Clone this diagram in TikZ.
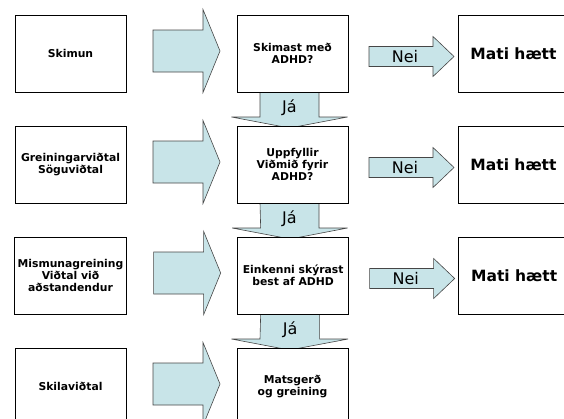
\documentclass[tikz,border=0pt]{standalone}
\usepackage{fontspec}
\setmainfont{DejaVu Sans}
\usetikzlibrary{positioning, backgrounds}
\definecolor{arrowblue}{RGB}{200,228,232}
\definecolor{edgegray}{RGB}{70,70,70}

\begin{document}
\begin{tikzpicture}[
  box/.style={draw=black, line width=0.8pt, fill=white, minimum width=111pt, minimum height=77pt, outer sep=0pt, align=center, font=\bfseries\fontsize{10.8}{11.8}\selectfont},
  stopbox/.style={box, font=\bfseries\fontsize{15.5}{18}\selectfont},
  blockarrow/.style={draw=edgegray, line width=0.6pt, fill=arrowblue, line join=miter},
  arrowtext/.style={font=\fontsize{16}{18}\selectfont, inner sep=0pt}
]
  \useasboundingbox (0,0) rectangle (564pt,-418pt);
  \clip (0,0) rectangle (564pt,-418pt);

  % left column
  \node[box] (skimun) at (70.5pt,-53.5pt) {Skimun};
  \node[box, below=34pt of skimun]   (greining) {Greiningarviðtal\\Söguviðtal};
  \node[box, below=34pt of greining] (mismunur) {Mismunagreining\\Viðtal við\\aðstandendur};
  \node[box, below=34pt of mismunur] (skil)     {Skilaviðtal};

  % middle column
  \node[box, right=111pt of skimun]   (spurn1)   {Skimast með\\ADHD?};
  \node[box, right=111pt of greining] (spurn2)   {Uppfyllir\\Viðmið fyrir\\ADHD?};
  \node[box, right=111pt of mismunur] (spurn3)   {Einkenni skýrast\\best af ADHD};
  \node[box, right=111pt of skil]     (matsgerd) {Matsgerð\\og greining};

  % right column
  \node[stopbox, right=110pt of spurn1] (haett1) {Mati hætt};
  \node[stopbox, right=110pt of spurn2] (haett2) {Mati hætt};
  \node[stopbox, right=110pt of spurn3] (haett3) {Mati hætt};

  \begin{scope}[on background layer]
    % big arrows
    \foreach \a/\b in {skimun/spurn1, greining/spurn2, mismunur/spurn3, skil/matsgerd}
      \draw[blockarrow] ([shift={(27pt,-18.5pt)}]\a.east) -- ++(0,42pt) -- ++(50pt,0) -- ++(0,20.5pt)
        -- ([xshift=-17pt,yshift=2.5pt]\b.west) -- ++(-17pt,-41.5pt) -- ++(0,20.5pt) -- cycle;
    % Nei
    \foreach \a/\b in {spurn1/haett1, spurn2/haett2, spurn3/haett3}{
      \draw[blockarrow] ([shift={(21pt,-13pt)}]\a.east) -- ++(0,20pt) -- ++(64pt,0) -- ++(0,10pt)
        -- ([xshift=-4pt,yshift=-3pt]\b.west) -- ++(-21pt,-20pt) -- ++(0,10pt) -- cycle;
      \node[arrowtext] at ([shift={(57pt,-3pt)}]\a.east) {Nei};
    }
    % Já
    \foreach \a/\b in {spurn1/spurn2, spurn2/spurn3, spurn3/matsgerd}{
      \draw[blockarrow] ([xshift=-32.5pt]\a.south) -- ++(59pt,0) -- ++(0,-25pt) -- ++(28.5pt,0)
        -- ([xshift=-3pt,yshift=-2pt]\b.north) -- ++(-58pt,11pt) -- ++(28.5pt,0) -- cycle;
      \node[arrowtext] at ([shift={(-3pt,-15.5pt)}]\a.south) {Já};
    }
  \end{scope}
\end{tikzpicture}
\end{document}
